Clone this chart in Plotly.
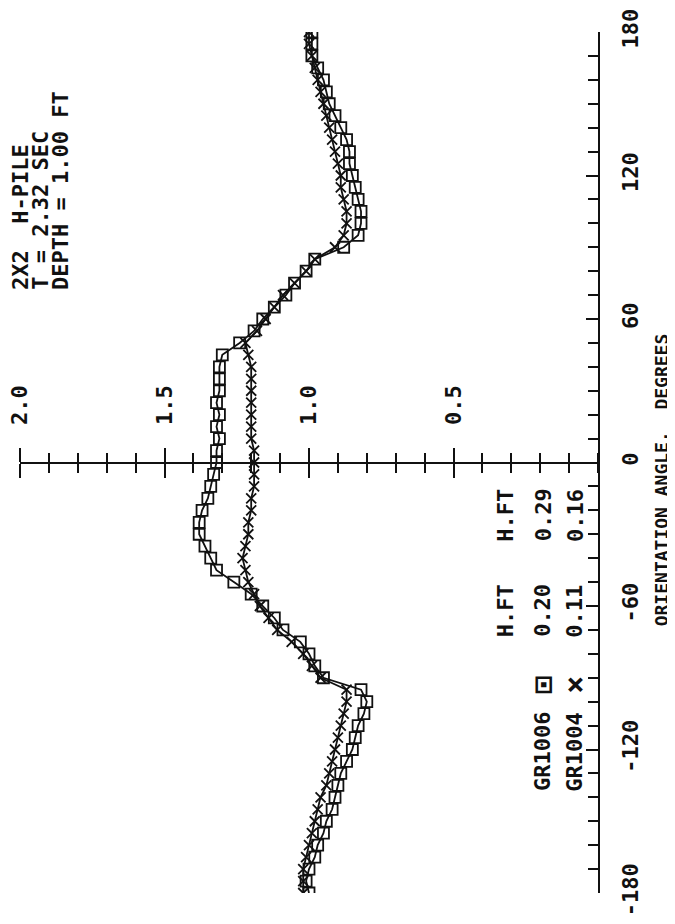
import plotly.graph_objects as go

# orientation angle, degrees (every 5 deg)
angle = [-180, -175, -170, -165, -160, -155, -150, -145, -140, -135, -130, -125,
         -120, -115, -110, -105, -100, -95, -90, -85, -80, -75, -70, -65,
         -60, -55, -50, -45, -40, -35, -30, -25, -20, -15, -10, -5,
         0, 5, 10, 15, 20, 25, 30, 35, 40, 45, 50, 55,
         60, 65, 70, 75, 80, 85, 90, 95, 100, 105, 110, 115,
         120, 125, 130, 135, 140, 145, 150, 155, 160, 165, 170, 175, 180]

# GR1006 (squares)
gr1006 = [1.00, 1.01, 1.00, 0.98, 0.97, 0.95, 0.94, 0.92, 0.91, 0.90, 0.89, 0.87,
          0.85, 0.84, 0.83, 0.81, 0.80, 0.82, 0.95, 0.98, 1.00, 1.03, 1.09, 1.12,
          1.16, 1.20, 1.26, 1.32, 1.34, 1.36, 1.38, 1.38, 1.37, 1.35, 1.34, 1.33,
          1.32, 1.32, 1.31, 1.32, 1.31, 1.32, 1.31, 1.31, 1.31, 1.30, 1.24, 1.19,
          1.16, 1.12, 1.08, 1.05, 1.01, 0.98, 0.88, 0.83, 0.82, 0.82, 0.83, 0.84,
          0.85, 0.86, 0.86, 0.87, 0.89, 0.91, 0.93, 0.94, 0.95, 0.97, 0.99, 0.99, 0.99]

# GR1004 (crosses)
gr1004 = [1.02, 1.02, 1.02, 1.01, 1.00, 0.99, 0.98, 0.97, 0.96, 0.94, 0.93, 0.92,
          0.91, 0.90, 0.89, 0.88, 0.87, 0.87, 0.96, 0.99, 1.02, 1.06, 1.11, 1.14,
          1.17, 1.19, 1.21, 1.22, 1.23, 1.22, 1.21, 1.21, 1.20, 1.20, 1.19, 1.19,
          1.19, 1.19, 1.20, 1.20, 1.20, 1.20, 1.20, 1.20, 1.20, 1.21, 1.22, 1.18,
          1.15, 1.12, 1.09, 1.05, 1.01, 0.98, 0.91, 0.88, 0.87, 0.87, 0.88, 0.89,
          0.89, 0.90, 0.91, 0.92, 0.93, 0.94, 0.95, 0.96, 0.97, 0.98, 0.99, 1.00, 1.00]

value_ticks = [0.5, 1.0, 1.5, 2.0]
value_labels = ["0.5", "1.0", "1.5", "2.0"]
angle_ticks = [-180, -120, -60, 0, 60, 120, 180]
angle_labels = ["-180", "-120", "-60", "0", "60", "120", "180"]

title_lines = ["2X2  H-PILE", "T = 2.32 SEC", "DEPTH = 1.00 FT"]
legend_names = ["GR1006", "GR1004"]
legend_symbols = ["\u22a1", "\u00d7"]
legend_w = ["0.20", "0.11"]
legend_h = ["0.29", "0.16"]

MONO = "DejaVu Sans Mono"
INK = "#111111"

fig = go.Figure()

fig.add_trace(go.Scatter(
    x=gr1006, y=angle, mode='lines+markers', name='GR1006',
    line=dict(color=INK, width=1.8),
    marker=dict(symbol='square-open', size=11, color=INK, line=dict(width=1.8)),
    xaxis='x', yaxis='y',
))
fig.add_trace(go.Scatter(
    x=gr1004, y=angle, mode='lines+markers', name='GR1004',
    line=dict(color=INK, width=1.8),
    marker=dict(symbol='x-thin-open', size=10, color=INK, line=dict(width=1.8, color=INK)),
    xaxis='x2', yaxis='y',
))

axis_common = dict(
    range=[2.0, 0.0], automargin=False,
    showgrid=False, zeroline=False,
    showline=True, linecolor=INK, linewidth=2,
    tickvals=value_ticks,
    ticks='outside', ticklen=14, tickwidth=2, tickcolor=INK,
    minor=dict(dtick=0.1, tick0=0, ticks='outside', ticklen=9,
               tickwidth=2, tickcolor=INK),
    anchor='free', position=0.5,
)

# page body adds an 8px margin, so the figure is sized to fit the window
fig.update_layout(
    width=667, height=908,
    margin=dict(l=12, r=77, t=24, b=23),
    paper_bgcolor='white', plot_bgcolor='white',
    showlegend=False,
    font=dict(family=MONO, color=INK, size=20, weight='bold'),
    xaxis=dict(**axis_common, side='bottom', showticklabels=False),
    xaxis2=dict(**axis_common, side='top', overlaying='x', matches='x',
                ticktext=value_labels, tickangle=-90,
                ticklabelstandoff=18, ticklabeloverflow='allow',
                tickfont=dict(family=MONO, size=22, color=INK, weight='bold')),
    yaxis=dict(
        range=[-180, 180], side='right', automargin=False,
        showgrid=False, zeroline=False,
        showline=True, linecolor=INK, linewidth=2,
        tickvals=angle_ticks, ticktext=angle_labels, tickangle=-90,
        ticks='inside', ticklen=12, tickwidth=2, tickcolor=INK,
        minor=dict(dtick=10, tick0=0, ticks='inside', ticklen=10,
                   tickwidth=2, tickcolor=INK),
        ticklabelstandoff=12, ticklabeloverflow='allow',
        tickfont=dict(family=MONO, size=22, color=INK, weight='bold'),
    ),
)

# axis title on the right (rotated)
fig.add_annotation(
    text="ORIENTATION ANGLE,  DEGREES", xref='paper', yref='paper',
    x=1.11, y=0.48, xanchor='center', yanchor='middle', textangle=-90,
    showarrow=False, font=dict(family=MONO, size=18, color=INK, weight='bold'),
)

# title block, upper left (rotated)
for i, line in enumerate(title_lines):
    fig.add_annotation(
        text=line, xref='paper', yref='paper',
        x=0.0 + i * 0.035, y=0.698,
        xanchor='center', yanchor='bottom', textangle=-90, showarrow=False,
        font=dict(family=MONO, size=22, color=INK, weight='bold'),
    )

# legend block (rotated), positioned in data units
for col_y in [-62, -22]:
    fig.add_annotation(
        text="H.FT", xref='x', yref='y', x=0.32, y=col_y,
        xanchor='center', yanchor='middle', textangle=-90, showarrow=False,
        font=dict(family=MONO, size=22, color=INK, weight='bold'),
    )
for i in range(2):
    xv = 0.19 - i * 0.11
    for txt, yv, sz in [(legend_names[i], -121, 22), (legend_symbols[i], -93, 30),
                        (legend_w[i], -62, 22), (legend_h[i], -22, 22)]:
        fig.add_annotation(
            text=txt, xref='x', yref='y', x=xv, y=yv,
            xanchor='center', yanchor='middle', textangle=-90, showarrow=False,
            font=dict(family=MONO, size=sz, color=INK, weight='bold'),
        )

fig.write_html("out.html")
